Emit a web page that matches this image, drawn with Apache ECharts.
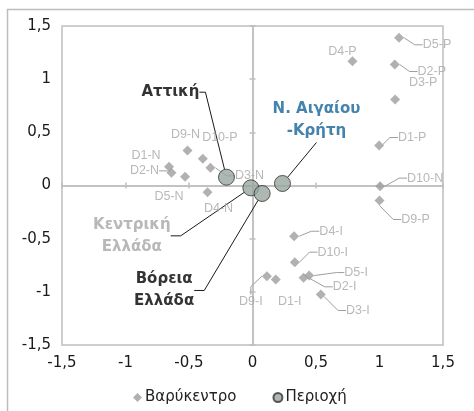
<!DOCTYPE html>
<html>
<head>
<meta charset="utf-8">
<script src="https://cdn.jsdelivr.net/npm/echarts@6/dist/echarts.min.js"></script>
<style>
  html, body { margin: 0; padding: 0; background: #fff; }
  #chart { width: 474px; height: 411px; }
</style>
</head>
<body>
<div id="chart"></div>
<script>
// centroids (Βαρύκεντρο)
var centroidNames = ['D1-N', 'D2-N', 'D3-N', 'D4-N', 'D5-N', 'D9-N', 'D10-N',
                     'D1-P', 'D2-P', 'D3-P', 'D4-P', 'D5-P', 'D9-P', 'D10-P',
                     'D1-I', 'D2-I', 'D3-I', 'D4-I', 'D5-I', 'D9-I', 'D10-I'];
var centroidX = [-0.657, -0.638, -0.331, -0.354, -0.531, -0.512, 1.005,
                 0.997, 1.120, 1.123, 0.787, 1.154, 1.000, -0.391,
                 0.183, 0.402, 0.538, 0.328, 0.446, 0.113, 0.333];
var centroidY = [0.176, 0.119, 0.166, -0.063, 0.082, 0.329, -0.006,
                 0.376, 1.138, 0.809, 1.169, 1.389, -0.141, 0.251,
                 -0.884, -0.868, -1.025, -0.477, -0.847, -0.853, -0.721];

// regions (Περιοχή)
var regionNames = ['Αττική', 'Κεντρική Ελλάδα', 'Βόρεια Ελλάδα', 'Ν. Αιγαίου -Κρήτη'];
var regionX = [-0.205, -0.013, 0.076, 0.236];
var regionY = [0.078, -0.022, -0.075, 0.019];

// axis ticks
var axisMin = -1.5;
var axisMax = 1.5;
var axisStep = 0.5;

// label placement (pixels from the point) and leader lines
var centroidLabelOffset = [[-23, -11], [-27, -2], [39, 8], [11, 16], [-16, 20], [-2, -16], [45, -8],
                           [33, -8], [37, 7], [28, -17], [-10, -10], [38, 7], [36, 19], [17, -21],
                           [14, 22], [41, 9], [37, 16], [37, -5], [47, -3], [-16, 25], [38, -10]];
var centroidLeader = [false, true, true, false, false, false, true,
                      true, true, false, false, true, true, false,
                      false, true, true, true, true, true, true];
var regionLabelText = ['Αττική', 'Κεντρική\nΕλλάδα', 'Βόρεια\nΕλλάδα', 'Ν. Αιγαίου\n-Κρήτη'];
var regionLabelColor = ['#000000', '#a6a6a6', '#000000', '#156496'];
var regionLabelOffset = [[-56, -85], [-119, 48], [-98, 97], [34, -63]];
var regionLeaderElbow = [6, 10, 10, 0];

var axisFont = 'DejaVu Sans';
var gridBox = { left: 62, right: 31, top: 26, bottom: 66 };
var zeroLine = { color: '#bfbfbf', width: 1.5 };

function fmt(v) { return String(v).replace('.', ','); }

var chart = echarts.init(document.getElementById('chart'));

var centroidData = centroidNames.map(function (n, i) {
  return {
    name: n,
    value: [centroidX[i], centroidY[i]],
    labelLine: { show: centroidLeader[i] }
  };
});
var regionData = regionNames.map(function (n, i) {
  return {
    name: n,
    value: [regionX[i], regionY[i]],
    label: {
      formatter: regionLabelText[i],
      color: regionLabelColor[i],
      lineHeight: i === 0 ? 18 : 22
    },
    labelLine: { length2: regionLeaderElbow[i] }
  };
});

function valueAxis(grid, pos, isLabelAxis) {
  var ax = {
    type: 'value', gridIndex: grid, position: pos,
    min: axisMin, max: axisMax, interval: axisStep,
    splitLine: { show: false }
  };
  if (isLabelAxis) {
    ax.axisLine = { show: false, onZero: false };
    ax.axisTick = { show: false };
    ax.axisLabel = { formatter: fmt, color: '#1a1a1a', fontSize: 15, fontFamily: axisFont, margin: 11 };
  } else {
    ax.axisLine = { show: true, onZero: true, lineStyle: zeroLine };
    ax.axisTick = { show: true, length: 3, lineStyle: zeroLine };
    ax.axisLabel = { show: false };
  }
  return ax;
}

var option = {
  animation: false,
  backgroundColor: '#ffffff',
  graphic: [{
    type: 'rect', left: 5, top: 7, silent: true,
    shape: { width: 520, height: 460 },
    style: { fill: 'none', stroke: '#bdbdbd', lineWidth: 1.5 }
  }],
  grid: [
    Object.assign({ show: true, borderColor: '#bfbfbf', borderWidth: 1.5 }, gridBox),
    Object.assign({ show: false }, gridBox)
  ],
  xAxis: [valueAxis(0, 'bottom', true), valueAxis(1, 'bottom', false), valueAxis(1, 'top', false)],
  yAxis: [valueAxis(0, 'left', true), valueAxis(1, 'left', false), valueAxis(1, 'right', false)],
  legend: {
    top: 385, left: 128,
    itemWidth: 9, itemHeight: 9, itemGap: 36,
    textStyle: { fontFamily: axisFont, fontSize: 15, color: '#222', padding: [0, 0, 0, -2] },
    data: [{ name: 'Βαρύκεντρο', icon: 'diamond' }, { name: 'Περιοχή', icon: 'circle' }]
  },
  series: [{
    name: 'Βαρύκεντρο',
    type: 'scatter',
    xAxisIndex: 0, yAxisIndex: 0,
    symbol: 'diamond',
    symbolSize: 10,
    itemStyle: { color: '#9e9e9e' },
    label: {
      show: true, position: 'inside',
      formatter: '{b}',
      color: '#a6a6a6', fontSize: 12.5, fontFamily: 'Liberation Sans'
    },
    labelLine: { show: true, length2: 8, minTurnAngle: 90, lineStyle: { color: '#9e9e9e', width: 1 } },
    labelLayout: function (p) {
      var o = centroidLabelOffset[p.dataIndex];
      return { dx: o[0], dy: o[1] };
    },
    data: centroidData
  }, {
    name: 'Περιοχή',
    type: 'scatter',
    xAxisIndex: 0, yAxisIndex: 0,
    symbol: 'circle',
    symbolSize: 16,
    itemStyle: { color: '#97a69d', borderColor: '#333', borderWidth: 1 },
    label: {
      show: true, position: 'inside',
      fontSize: 15, fontWeight: 'bold', fontFamily: axisFont, lineHeight: 22, align: 'center'
    },
    labelLine: { show: true, length2: 10, lineStyle: { color: '#1a1a1a', width: 1 } },
    labelLayout: function (p) {
      var o = regionLabelOffset[p.dataIndex];
      return { dx: o[0], dy: o[1] };
    },
    data: regionData
  }]
};

chart.setOption(option);
</script>
</body>
</html>
